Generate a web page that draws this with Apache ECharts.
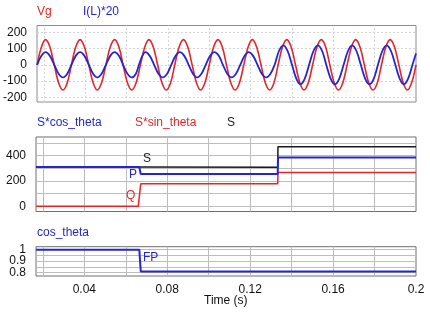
<!DOCTYPE html>
<html><head><meta charset="utf-8">
<script src="https://cdn.jsdelivr.net/npm/echarts@6/dist/echarts.min.js"></script>
<style>html,body{margin:0;padding:0;background:#fff}#c{width:430px;height:313px}</style>
</head><body><div id="c"></div>
<script>
// ---- data ----
const vgTimes = [0.0167,0.0188,0.0208,0.0229,0.025,0.0271,0.0292,0.0313,0.0333,0.0354,0.0375,0.0396,0.0417,0.0438,0.0458,0.0479,0.05,0.0521,0.0542,0.0563,0.0583,0.0604,0.0625,0.0646,0.0667,0.0688,0.0708,0.0729,0.075,0.0771,0.0792,0.0813,0.0833,0.0854,0.0875,0.0896,0.0917,0.0938,0.0958,0.0979,0.1,0.1021,0.1042,0.1063,0.1083,0.1104,0.1125,0.1146,0.1167,0.1188,0.1208,0.1229,0.125,0.1271,0.1292,0.1313,0.1333,0.1354,0.1375,0.1396,0.1417,0.1438,0.1458,0.1479,0.15,0.1521,0.1542,0.1563,0.1583,0.1604,0.1625,0.1646,0.1667,0.1688,0.1708,0.1729,0.175,0.1771,0.1792,0.1813,0.1833,0.1854,0.1875,0.1896,0.1917,0.1938,0.1958,0.1979,0.2];
const vgValues = [0,110,155,110,0,-110,-155,-110, 0,110,155,110,0,-110,-155,-110, 0,110,155,110,0,-110,-155,-110, 0,110,155,110,0,-110,-155,-110, 0,110,155,110,0,-110,-155,-110, 0,110,155,110,0,-110,-155,-110, 0,110,155,110,0,-110,-155,-110, 0,110,155,110,0,-110,-155,-110, 0,110,155,110,0,-110,-155,-110, 0,110,155,110,0,-110,-155,-110, 0,110,155,110,0,-110,-155,-110, 0];
const ilTimes = [0.0167,0.0188,0.0208,0.0229,0.025,0.0271,0.0292,0.0313,0.0333,0.0354,0.0375,0.0396,0.0417,0.0438,0.0458,0.0479,0.05,0.0521,0.0542,0.0563,0.0583,0.0604,0.0625,0.0645,0.066,0.0676,
  0.0691,0.0712,0.0733,0.0754,0.0775,0.0796,0.0816,0.0837,0.0858,0.0879,0.09,0.0921,0.0941,0.0962,0.0983,0.1004,0.1025,0.1046,0.1066,0.1087,0.1108,0.1129,0.115,0.1171,0.1191,0.1212,0.1233,0.1254,0.1275,0.1296,0.1316,
  0.1337,0.1358,0.1379,0.14,0.1421,0.1441,0.1462,0.1483,0.1504,0.1525,0.1546,0.1566,0.1587,0.1608,0.1629,0.165,0.1671,0.1691,0.1712,0.1733,0.1754,0.1775,0.1796,0.1816,0.1837,0.1858,0.1879,0.19,0.1921,0.1941,0.1962,0.1983,0.2];
const ilValues = [0,55,78,55,0,-55,-78,-55, 0,55,78,55,0,-55,-78,-55, 0,55,78,55,0,-55,-78,-55,0,55,
  78,55,0,-55,-78,-55, 0,55,78,55,0,-55,-78,-55, 0,55,78,55,0,-55,-78,-55, 0,55,78,55,0,-55,-78,-55, 0,
  85,120,85,0,-85,-120,-85, 0,85,120,85,0,-85,-120,-85, 0,85,120,85,0,-85,-120,-85, 0,85,120,85,0,-85,-120,-85, 0,70];
const pTimes = [0.0167,0.0665,0.0672,0.1333,0.1334,0.2];
const pValues = [310,310,255,255,385,385];
const qTimes = [0.0167,0.066,0.0672,0.1333,0.1334,0.2];
const qValues = [0,0,178,178,268,268];
const sTimes = [0.0167,0.0665,0.0672,0.1333,0.1334,0.2];
const sValues = [310,310,308,308,470,470];
const fpTimes = [0.0167,0.0665,0.0672,0.2];
const fpValues = [1.0,1.0,0.811,0.811];
const xTickLabels = [0.04,0.08,0.12,0.16,0.2];
const y1TickLabels = [-200,-100,0,100,200];
const y2TickLabels = [0,200,400];
const y3TickLabelsOuter = [0.8,1];
const y3TickLabelsMiddle = [0.9];
const xGrid = [0.02,0.04,0.06,0.08,0.1,0.12,0.14,0.16,0.18];
const y1Grid = [-200,-100,0,100,200];
const y2Grid = [0,100,200,300,400,500];
const y3Grid = [0.8,0.85,0.9,0.95,1.0];

const zip = (t, v) => t.map((x, i) => [x, v[i]]);
const FONT = 'Liberation Sans, Arial, sans-serif';
const RED = '#e3262b', BLUE = '#2626d0', BLACK = '#1a1a1a';

function gridSeries(xi, xs, ys, color, type) {
  const data = xs.map(v => ({xAxis: v})).concat(ys.map(v => ({yAxis: v})));
  return {type: 'line', xAxisIndex: xi, yAxisIndex: xi, data: [], silent: true, z: 0,
    markLine: {z: 0, silent: true, symbol: 'none', animation: false, label: {show: false},
      lineStyle: {color: color, width: 1, type: type}, data: data}};
}

const xBase = {type: 'value', min: 1/60, max: 0.2, axisLine: {show: false}, axisTick: {show: false}, splitLine: {show: false}};
const yBase = {type: 'value', axisLine: {show: false}, axisTick: {show: false}, splitLine: {show: false}};
const yLabel = (vals) => ({show: true, customValues: vals, interval: 0, hideOverlap: false, showMinLabel: true, showMaxLabel: true, color: '#111', fontSize: 12, fontFamily: FONT, margin: 10});

const chart = echarts.init(document.getElementById('c'), null, {renderer: 'canvas'});
chart.setOption({
  animation: false,
  grid: [
    {left: 36, right: 14, top: 25.5, height: 76.5, show: true, borderColor: '#8c8c8c', borderWidth: 1},
    {left: 36, right: 14, top: 137, height: 74.5, show: true, borderColor: '#6e6e6e', borderWidth: 1},
    {left: 36, right: 14, top: 246.7, height: 29.3, show: true, borderColor: '#6e6e6e', borderWidth: 1}
  ],
  xAxis: [
    Object.assign({}, xBase, {gridIndex: 0, axisLabel: {show: false}}),
    Object.assign({}, xBase, {gridIndex: 1, axisLabel: {show: false}}),
    Object.assign({}, xBase, {gridIndex: 2, axisLabel: {show: true, customValues: xTickLabels, interval: 0, showMinLabel: true, showMaxLabel: true, color: '#111', fontSize: 12, fontFamily: FONT, margin: 8}})
  ],
  yAxis: [
    Object.assign({}, yBase, {gridIndex: 0, min: -229, max: 242, axisLabel: yLabel(y1TickLabels)}),
    Object.assign({}, yBase, {gridIndex: 1, min: -41, max: 548, axisLabel: yLabel(y2TickLabels)}),
    Object.assign({}, yBase, {gridIndex: 2, min: 0.771, max: 1.026, axisLabel: yLabel(y3TickLabelsOuter)}),
    Object.assign({}, yBase, {gridIndex: 2, position: 'left', offset: 0, min: 0.771, max: 1.026, axisLabel: yLabel(y3TickLabelsMiddle)})
  ],
  series: [
    gridSeries(0, xGrid, y1Grid, '#d4d4d4', [2, 2]),
    gridSeries(1, xGrid, y2Grid, '#bdbdbd', 'solid'),
    gridSeries(2, xGrid, y3Grid, '#bdbdbd', 'solid'),
    {name: 'Vg', type: 'line', xAxisIndex: 0, yAxisIndex: 0, data: zip(vgTimes, vgValues), smooth: 0.35, showSymbol: false, lineStyle: {color: RED, width: 1.6}, z: 3},
    {name: 'I(L)*20', type: 'line', xAxisIndex: 0, yAxisIndex: 0, data: zip(ilTimes, ilValues), smooth: 0.35, showSymbol: false, lineStyle: {color: BLUE, width: 1.8}, z: 4},
    {name: 'S', type: 'line', xAxisIndex: 1, yAxisIndex: 1, data: zip(sTimes, sValues), showSymbol: false, lineStyle: {color: BLACK, width: 1.5}, z: 3},
    {name: 'Q', type: 'line', xAxisIndex: 1, yAxisIndex: 1, data: zip(qTimes, qValues), showSymbol: false, lineStyle: {color: RED, width: 1.5}, z: 3},
    {name: 'P', type: 'line', xAxisIndex: 1, yAxisIndex: 1, data: zip(pTimes, pValues), showSymbol: false, lineStyle: {color: BLUE, width: 2}, z: 4},
    {name: 'FP', type: 'line', xAxisIndex: 2, yAxisIndex: 2, data: zip(fpTimes, fpValues), showSymbol: false, lineStyle: {color: BLUE, width: 2}, z: 4}
  ],
  graphic: [
    {type: 'text', z: 10, left: 37, top: 6, style: {text: 'Vg', fill: RED, font: '12px ' + FONT}},
    {type: 'text', z: 10, left: 83, top: 6, style: {text: 'I(L)*20', fill: BLUE, font: '12px ' + FONT}},
    {type: 'text', z: 10, left: 37, top: 117, style: {text: 'S*cos_theta', fill: BLUE, font: '12px ' + FONT}},
    {type: 'text', z: 10, left: 135, top: 117, style: {text: 'S*sin_theta', fill: RED, font: '12px ' + FONT}},
    {type: 'text', z: 10, left: 227, top: 117, style: {text: 'S', fill: BLACK, font: '12px ' + FONT}},
    {type: 'text', z: 10, left: 37, top: 227, style: {text: 'cos_theta', fill: BLUE, font: '12px ' + FONT}},
    {type: 'text', z: 10, left: 143, top: 153, style: {text: 'S', fill: BLACK, font: '12px ' + FONT}},
    {type: 'text', z: 10, left: 129, top: 169, style: {text: 'P', fill: BLUE, font: '12px ' + FONT}},
    {type: 'text', z: 10, left: 126, top: 190, style: {text: 'Q', fill: RED, font: '12px ' + FONT}},
    {type: 'text', z: 10, left: 143, top: 252, style: {text: 'FP', fill: BLUE, font: '12px ' + FONT}},
    {type: 'text', z: 10, left: 204, top: 295, style: {text: 'Time (s)', fill: '#111', font: '12px ' + FONT}}
  ]
});
</script></body></html>
